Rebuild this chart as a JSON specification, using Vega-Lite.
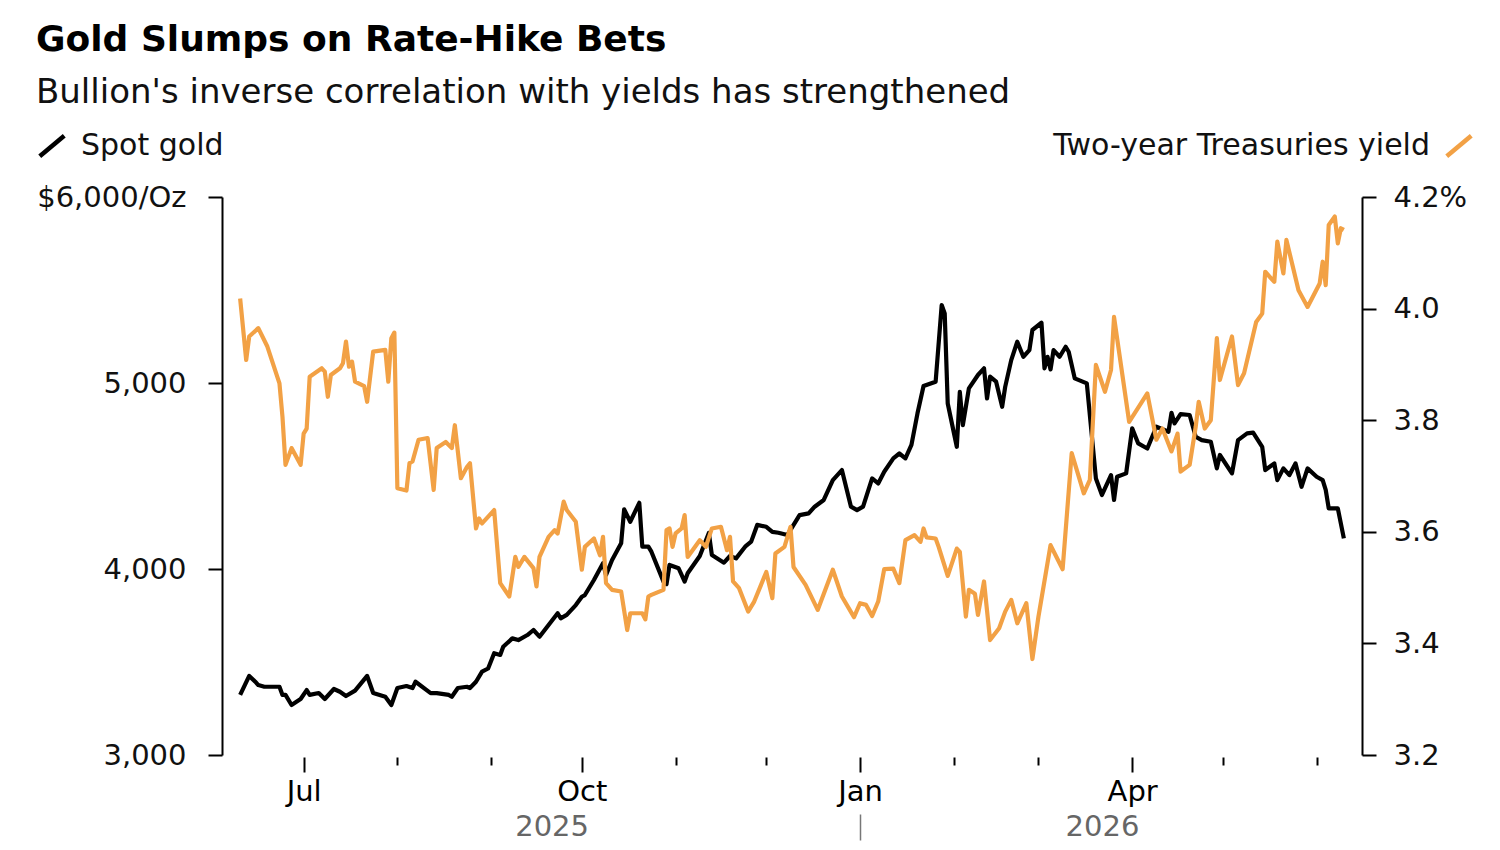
{
  "$schema": "https://vega.github.io/schema/vega-lite/v6.json",
  "width": 1140,
  "height": 558,
  "autosize": {"type": "none"},
  "padding": {"left": 222, "top": 197, "right": 138, "bottom": 95},
  "background": "white",
  "title": {
    "text": "Gold Slumps on Rate-Hike Bets",
    "subtitle": "Bullion's inverse correlation with yields has strengthened",
    "orient": "top",
    "anchor": "start",
    "frame": "group",
    "dx": -186,
    "font": "DejaVu Sans",
    "fontSize": 36,
    "fontWeight": "bold",
    "color": "#000000",
    "subtitleFont": "DejaVu Sans",
    "subtitleFontSize": 34,
    "subtitleFontWeight": "normal",
    "subtitleColor": "#111111",
    "subtitlePadding": 17,
    "offset": 20
  },
  "datasets": {
    "gold": [
      {"date": "2025-06-10", "value": 3323}, {"date": "2025-06-13", "value": 3425}, {"date": "2025-06-15", "value": 3394},
      {"date": "2025-06-16", "value": 3376}, {"date": "2025-06-18", "value": 3367}, {"date": "2025-06-23", "value": 3367},
      {"date": "2025-06-24", "value": 3323}, {"date": "2025-06-25", "value": 3323}, {"date": "2025-06-27", "value": 3269},
      {"date": "2025-06-30", "value": 3301}, {"date": "2025-07-02", "value": 3349}, {"date": "2025-07-03", "value": 3323},
      {"date": "2025-07-06", "value": 3333}, {"date": "2025-07-08", "value": 3301}, {"date": "2025-07-11", "value": 3355},
      {"date": "2025-07-13", "value": 3340}, {"date": "2025-07-15", "value": 3317}, {"date": "2025-07-18", "value": 3346},
      {"date": "2025-07-22", "value": 3425}, {"date": "2025-07-24", "value": 3333}, {"date": "2025-07-28", "value": 3313},
      {"date": "2025-07-30", "value": 3269}, {"date": "2025-08-01", "value": 3360}, {"date": "2025-08-04", "value": 3371},
      {"date": "2025-08-06", "value": 3360}, {"date": "2025-08-07", "value": 3394}, {"date": "2025-08-12", "value": 3333},
      {"date": "2025-08-14", "value": 3333}, {"date": "2025-08-18", "value": 3323}, {"date": "2025-08-19", "value": 3313},
      {"date": "2025-08-21", "value": 3360}, {"date": "2025-08-24", "value": 3367}, {"date": "2025-08-25", "value": 3360},
      {"date": "2025-08-27", "value": 3394}, {"date": "2025-08-29", "value": 3448}, {"date": "2025-08-31", "value": 3465},
      {"date": "2025-09-02", "value": 3547}, {"date": "2025-09-04", "value": 3538}, {"date": "2025-09-05", "value": 3582},
      {"date": "2025-09-08", "value": 3627}, {"date": "2025-09-10", "value": 3618}, {"date": "2025-09-13", "value": 3645},
      {"date": "2025-09-15", "value": 3672}, {"date": "2025-09-17", "value": 3636}, {"date": "2025-09-20", "value": 3699},
      {"date": "2025-09-23", "value": 3762}, {"date": "2025-09-24", "value": 3735}, {"date": "2025-09-26", "value": 3753},
      {"date": "2025-09-29", "value": 3806}, {"date": "2025-10-01", "value": 3851}, {"date": "2025-10-02", "value": 3860},
      {"date": "2025-10-05", "value": 3941}, {"date": "2025-10-08", "value": 4031}, {"date": "2025-10-09", "value": 3968},
      {"date": "2025-10-11", "value": 4048}, {"date": "2025-10-14", "value": 4138}, {"date": "2025-10-15", "value": 4321},
      {"date": "2025-10-17", "value": 4254}, {"date": "2025-10-20", "value": 4356}, {"date": "2025-10-21", "value": 4120},
      {"date": "2025-10-23", "value": 4120}, {"date": "2025-10-24", "value": 4093}, {"date": "2025-10-28", "value": 3932},
      {"date": "2025-10-29", "value": 3919}, {"date": "2025-10-30", "value": 4022}, {"date": "2025-11-02", "value": 4004},
      {"date": "2025-11-04", "value": 3932}, {"date": "2025-11-05", "value": 3977}, {"date": "2025-11-09", "value": 4070},
      {"date": "2025-11-12", "value": 4194}, {"date": "2025-11-13", "value": 4075}, {"date": "2025-11-17", "value": 4034},
      {"date": "2025-11-19", "value": 4070}, {"date": "2025-11-21", "value": 4057}, {"date": "2025-11-24", "value": 4120},
      {"date": "2025-11-26", "value": 4147}, {"date": "2025-11-28", "value": 4237}, {"date": "2025-12-01", "value": 4227},
      {"date": "2025-12-03", "value": 4200}, {"date": "2025-12-05", "value": 4195}, {"date": "2025-12-08", "value": 4183},
      {"date": "2025-12-12", "value": 4290}, {"date": "2025-12-15", "value": 4299}, {"date": "2025-12-17", "value": 4335},
      {"date": "2025-12-20", "value": 4371}, {"date": "2025-12-23", "value": 4478}, {"date": "2025-12-26", "value": 4532},
      {"date": "2025-12-29", "value": 4335}, {"date": "2025-12-31", "value": 4317}, {"date": "2026-01-02", "value": 4335},
      {"date": "2026-01-05", "value": 4487}, {"date": "2026-01-07", "value": 4460}, {"date": "2026-01-09", "value": 4523},
      {"date": "2026-01-12", "value": 4595}, {"date": "2026-01-14", "value": 4621}, {"date": "2026-01-16", "value": 4595},
      {"date": "2026-01-18", "value": 4667}, {"date": "2026-01-20", "value": 4837}, {"date": "2026-01-22", "value": 4984},
      {"date": "2026-01-26", "value": 5007}, {"date": "2026-01-28", "value": 5419}, {"date": "2026-01-29", "value": 5374},
      {"date": "2026-01-30", "value": 4890}, {"date": "2026-02-02", "value": 4657}, {"date": "2026-02-03", "value": 4952},
      {"date": "2026-02-04", "value": 4774}, {"date": "2026-02-06", "value": 4971}, {"date": "2026-02-09", "value": 5043},
      {"date": "2026-02-11", "value": 5079}, {"date": "2026-02-12", "value": 4917}, {"date": "2026-02-13", "value": 5034},
      {"date": "2026-02-15", "value": 5007}, {"date": "2026-02-17", "value": 4872}, {"date": "2026-02-18", "value": 4979},
      {"date": "2026-02-20", "value": 5123}, {"date": "2026-02-22", "value": 5222}, {"date": "2026-02-24", "value": 5141},
      {"date": "2026-02-26", "value": 5177}, {"date": "2026-02-27", "value": 5285}, {"date": "2026-03-02", "value": 5324},
      {"date": "2026-03-03", "value": 5079}, {"date": "2026-03-04", "value": 5141}, {"date": "2026-03-05", "value": 5073},
      {"date": "2026-03-06", "value": 5177}, {"date": "2026-03-08", "value": 5141}, {"date": "2026-03-10", "value": 5195},
      {"date": "2026-03-11", "value": 5168}, {"date": "2026-03-13", "value": 5025}, {"date": "2026-03-17", "value": 4998},
      {"date": "2026-03-19", "value": 4657}, {"date": "2026-03-20", "value": 4487}, {"date": "2026-03-22", "value": 4398},
      {"date": "2026-03-25", "value": 4505}, {"date": "2026-03-26", "value": 4371}, {"date": "2026-03-27", "value": 4496},
      {"date": "2026-03-30", "value": 4514}, {"date": "2026-04-01", "value": 4756}, {"date": "2026-04-03", "value": 4675},
      {"date": "2026-04-06", "value": 4648}, {"date": "2026-04-09", "value": 4765}, {"date": "2026-04-13", "value": 4738},
      {"date": "2026-04-14", "value": 4840}, {"date": "2026-04-15", "value": 4783}, {"date": "2026-04-17", "value": 4833},
      {"date": "2026-04-20", "value": 4828}, {"date": "2026-04-22", "value": 4711}, {"date": "2026-04-24", "value": 4693},
      {"date": "2026-04-27", "value": 4684}, {"date": "2026-04-29", "value": 4541}, {"date": "2026-04-30", "value": 4613},
      {"date": "2026-05-04", "value": 4514}, {"date": "2026-05-06", "value": 4693}, {"date": "2026-05-09", "value": 4729},
      {"date": "2026-05-11", "value": 4733}, {"date": "2026-05-14", "value": 4657}, {"date": "2026-05-15", "value": 4532},
      {"date": "2026-05-18", "value": 4568}, {"date": "2026-05-19", "value": 4478}, {"date": "2026-05-21", "value": 4541},
      {"date": "2026-05-23", "value": 4505}, {"date": "2026-05-25", "value": 4568}, {"date": "2026-05-27", "value": 4442},
      {"date": "2026-05-29", "value": 4541}, {"date": "2026-06-01", "value": 4496}, {"date": "2026-06-03", "value": 4478},
      {"date": "2026-06-04", "value": 4425}, {"date": "2026-06-05", "value": 4326}, {"date": "2026-06-08", "value": 4326},
      {"date": "2026-06-10", "value": 4165}
    ],
    "yield": [
      {"date": "2025-06-10", "value": 4.018}, {"date": "2025-06-12", "value": 3.908}, {"date": "2025-06-13", "value": 3.950},
      {"date": "2025-06-16", "value": 3.965}, {"date": "2025-06-19", "value": 3.932}, {"date": "2025-06-23", "value": 3.866},
      {"date": "2025-06-24", "value": 3.806}, {"date": "2025-06-25", "value": 3.720}, {"date": "2025-06-27", "value": 3.750},
      {"date": "2025-06-30", "value": 3.720}, {"date": "2025-07-01", "value": 3.776}, {"date": "2025-07-02", "value": 3.785},
      {"date": "2025-07-03", "value": 3.878}, {"date": "2025-07-07", "value": 3.893}, {"date": "2025-07-08", "value": 3.887},
      {"date": "2025-07-09", "value": 3.842}, {"date": "2025-07-10", "value": 3.881}, {"date": "2025-07-13", "value": 3.893},
      {"date": "2025-07-14", "value": 3.902}, {"date": "2025-07-15", "value": 3.941}, {"date": "2025-07-16", "value": 3.896},
      {"date": "2025-07-17", "value": 3.905}, {"date": "2025-07-18", "value": 3.869}, {"date": "2025-07-21", "value": 3.861},
      {"date": "2025-07-22", "value": 3.833}, {"date": "2025-07-24", "value": 3.923}, {"date": "2025-07-28", "value": 3.926},
      {"date": "2025-07-29", "value": 3.869}, {"date": "2025-07-30", "value": 3.947}, {"date": "2025-07-31", "value": 3.957},
      {"date": "2025-08-01", "value": 3.678}, {"date": "2025-08-04", "value": 3.674}, {"date": "2025-08-05", "value": 3.723},
      {"date": "2025-08-06", "value": 3.726}, {"date": "2025-08-08", "value": 3.765}, {"date": "2025-08-11", "value": 3.768},
      {"date": "2025-08-13", "value": 3.675}, {"date": "2025-08-14", "value": 3.750}, {"date": "2025-08-17", "value": 3.761},
      {"date": "2025-08-19", "value": 3.750}, {"date": "2025-08-20", "value": 3.791}, {"date": "2025-08-22", "value": 3.696},
      {"date": "2025-08-24", "value": 3.716}, {"date": "2025-08-25", "value": 3.723}, {"date": "2025-08-27", "value": 3.606},
      {"date": "2025-08-28", "value": 3.624}, {"date": "2025-08-29", "value": 3.615}, {"date": "2025-09-02", "value": 3.639},
      {"date": "2025-09-04", "value": 3.508}, {"date": "2025-09-07", "value": 3.484}, {"date": "2025-09-09", "value": 3.555},
      {"date": "2025-09-10", "value": 3.537}, {"date": "2025-09-12", "value": 3.555}, {"date": "2025-09-15", "value": 3.535},
      {"date": "2025-09-16", "value": 3.502}, {"date": "2025-09-17", "value": 3.555}, {"date": "2025-09-20", "value": 3.591},
      {"date": "2025-09-22", "value": 3.603}, {"date": "2025-09-23", "value": 3.597}, {"date": "2025-09-25", "value": 3.654},
      {"date": "2025-09-26", "value": 3.639}, {"date": "2025-09-29", "value": 3.618}, {"date": "2025-10-01", "value": 3.532},
      {"date": "2025-10-02", "value": 3.573}, {"date": "2025-10-05", "value": 3.588}, {"date": "2025-10-07", "value": 3.558},
      {"date": "2025-10-08", "value": 3.591}, {"date": "2025-10-09", "value": 3.508}, {"date": "2025-10-11", "value": 3.496},
      {"date": "2025-10-14", "value": 3.493}, {"date": "2025-10-16", "value": 3.424}, {"date": "2025-10-17", "value": 3.454},
      {"date": "2025-10-21", "value": 3.454}, {"date": "2025-10-22", "value": 3.443}, {"date": "2025-10-23", "value": 3.484},
      {"date": "2025-10-24", "value": 3.487}, {"date": "2025-10-28", "value": 3.496}, {"date": "2025-10-29", "value": 3.603},
      {"date": "2025-10-30", "value": 3.606}, {"date": "2025-10-31", "value": 3.573}, {"date": "2025-11-01", "value": 3.597},
      {"date": "2025-11-03", "value": 3.606}, {"date": "2025-11-04", "value": 3.630}, {"date": "2025-11-05", "value": 3.555},
      {"date": "2025-11-09", "value": 3.585}, {"date": "2025-11-11", "value": 3.573}, {"date": "2025-11-13", "value": 3.606},
      {"date": "2025-11-16", "value": 3.609}, {"date": "2025-11-18", "value": 3.567}, {"date": "2025-11-19", "value": 3.591},
      {"date": "2025-11-20", "value": 3.511}, {"date": "2025-11-22", "value": 3.499}, {"date": "2025-11-25", "value": 3.457},
      {"date": "2025-11-27", "value": 3.475}, {"date": "2025-12-01", "value": 3.528}, {"date": "2025-12-03", "value": 3.481},
      {"date": "2025-12-04", "value": 3.561}, {"date": "2025-12-07", "value": 3.573}, {"date": "2025-12-09", "value": 3.609},
      {"date": "2025-12-10", "value": 3.537}, {"date": "2025-12-14", "value": 3.505}, {"date": "2025-12-18", "value": 3.460},
      {"date": "2025-12-23", "value": 3.532}, {"date": "2025-12-26", "value": 3.484}, {"date": "2025-12-30", "value": 3.447},
      {"date": "2026-01-01", "value": 3.472}, {"date": "2026-01-03", "value": 3.469}, {"date": "2026-01-05", "value": 3.449},
      {"date": "2026-01-07", "value": 3.475}, {"date": "2026-01-09", "value": 3.533}, {"date": "2026-01-12", "value": 3.534},
      {"date": "2026-01-14", "value": 3.508}, {"date": "2026-01-16", "value": 3.585}, {"date": "2026-01-19", "value": 3.594},
      {"date": "2026-01-21", "value": 3.582}, {"date": "2026-01-22", "value": 3.606}, {"date": "2026-01-23", "value": 3.590},
      {"date": "2026-01-26", "value": 3.588}, {"date": "2026-01-27", "value": 3.573}, {"date": "2026-01-30", "value": 3.521},
      {"date": "2026-02-02", "value": 3.570}, {"date": "2026-02-03", "value": 3.564}, {"date": "2026-02-05", "value": 3.448},
      {"date": "2026-02-06", "value": 3.496}, {"date": "2026-02-08", "value": 3.489}, {"date": "2026-02-09", "value": 3.451},
      {"date": "2026-02-11", "value": 3.511}, {"date": "2026-02-13", "value": 3.406}, {"date": "2026-02-16", "value": 3.427},
      {"date": "2026-02-18", "value": 3.457}, {"date": "2026-02-20", "value": 3.478}, {"date": "2026-02-22", "value": 3.436},
      {"date": "2026-02-25", "value": 3.472}, {"date": "2026-02-27", "value": 3.372}, {"date": "2026-03-01", "value": 3.448},
      {"date": "2026-03-05", "value": 3.576}, {"date": "2026-03-09", "value": 3.533}, {"date": "2026-03-12", "value": 3.741},
      {"date": "2026-03-16", "value": 3.669}, {"date": "2026-03-18", "value": 3.693}, {"date": "2026-03-20", "value": 3.899},
      {"date": "2026-03-23", "value": 3.851}, {"date": "2026-03-25", "value": 3.890}, {"date": "2026-03-26", "value": 3.985},
      {"date": "2026-03-31", "value": 3.797}, {"date": "2026-04-06", "value": 3.848}, {"date": "2026-04-09", "value": 3.765},
      {"date": "2026-04-11", "value": 3.785}, {"date": "2026-04-14", "value": 3.744}, {"date": "2026-04-16", "value": 3.776},
      {"date": "2026-04-17", "value": 3.708}, {"date": "2026-04-20", "value": 3.720}, {"date": "2026-04-22", "value": 3.788},
      {"date": "2026-04-23", "value": 3.833}, {"date": "2026-04-25", "value": 3.785}, {"date": "2026-04-27", "value": 3.800},
      {"date": "2026-04-29", "value": 3.947}, {"date": "2026-04-30", "value": 3.872}, {"date": "2026-05-04", "value": 3.950},
      {"date": "2026-05-06", "value": 3.863}, {"date": "2026-05-08", "value": 3.884}, {"date": "2026-05-12", "value": 3.976},
      {"date": "2026-05-14", "value": 3.991}, {"date": "2026-05-15", "value": 4.066}, {"date": "2026-05-18", "value": 4.048},
      {"date": "2026-05-19", "value": 4.120}, {"date": "2026-05-21", "value": 4.063}, {"date": "2026-05-22", "value": 4.123},
      {"date": "2026-05-26", "value": 4.033}, {"date": "2026-05-29", "value": 4.003}, {"date": "2026-06-02", "value": 4.045},
      {"date": "2026-06-03", "value": 4.084}, {"date": "2026-06-04", "value": 4.042}, {"date": "2026-06-05", "value": 4.150},
      {"date": "2026-06-07", "value": 4.165}, {"date": "2026-06-08", "value": 4.117}, {"date": "2026-06-09", "value": 4.144},
      {"date": "2026-06-10", "value": 4.141}
    ]
  },
  "layer": [
    {
      "data": {"name": "gold"},
      "mark": {"type": "line", "strokeWidth": 4.2, "strokeJoin": "round", "strokeCap": "butt"},
      "encoding": {
        "x": {
          "field": "date",
          "type": "temporal",
          "scale": {
            "type": "utc",
            "domain": [
              {"year": 2025, "month": 6, "date": 4, "utc": true},
              {"year": 2026, "month": 6, "date": 16, "utc": true}
            ]
          },
          "axis": {
            "orient": "bottom",
            "title": null,
            "values": [
              {"year": 2025, "month": 7, "date": 1, "utc": true},
              {"year": 2025, "month": 8, "date": 1, "utc": true},
              {"year": 2025, "month": 9, "date": 1, "utc": true},
              {"year": 2025, "month": 10, "date": 1, "utc": true},
              {"year": 2025, "month": 11, "date": 1, "utc": true},
              {"year": 2025, "month": 12, "date": 1, "utc": true},
              {"year": 2026, "month": 1, "date": 1, "utc": true},
              {"year": 2026, "month": 2, "date": 1, "utc": true},
              {"year": 2026, "month": 3, "date": 1, "utc": true},
              {"year": 2026, "month": 4, "date": 1, "utc": true},
              {"year": 2026, "month": 5, "date": 1, "utc": true},
              {"year": 2026, "month": 6, "date": 1, "utc": true}
            ],
            "labelExpr": "utcmonth(datum.value) % 3 == 0 ? utcFormat(datum.value, '%b') : ''",
            "tickSize": {"condition": {"test": "utcmonth(datum.value) % 3 == 0", "value": 15}, "value": 8},
            "domain": false,
            "grid": false,
            "offset": 2,
            "tickWidth": 2,
            "tickColor": "#000000",
            "labelFont": "DejaVu Sans",
            "labelFontSize": 29,
            "labelColor": "#000000",
            "labelPadding": 5,
            "labelOverlap": false,
            "labelFlush": false
          }
        },
        "y": {
          "field": "value",
          "type": "quantitative",
          "scale": {"domain": [3000, 6000], "nice": false, "zero": false},
          "axis": {
            "orient": "left",
            "title": null,
            "values": [3000, 4000, 5000, 6000],
            "labelExpr": "datum.value == 6000 ? '$6,000/Oz' : format(datum.value, ',')",
            "grid": false,
            "domainColor": "#000000",
            "domainWidth": 2,
            "tickSize": 14,
            "tickWidth": 2,
            "tickColor": "#000000",
            "labelPadding": 22,
            "labelFont": "DejaVu Sans",
            "labelFontSize": 29,
            "labelColor": "#111111",
            "labelFlush": false
          }
        },
        "color": {
          "datum": "Spot gold",
          "scale": {"range": ["#000000"]},
          "legend": {
            "orient": "none",
            "legendX": -185,
            "legendY": -66,
            "title": null,
            "padding": 0,
            "symbolType": "M-1,0.84L1,-0.84",
            "symbolSize": 600,
            "symbolStrokeWidth": 4.5,
            "labelFont": "DejaVu Sans",
            "labelFontSize": 30,
            "labelColor": "#111111",
            "labelLimit": 600,
            "labelOffset": 14
          }
        }
      }
    },
    {
      "data": {"name": "yield"},
      "mark": {"type": "line", "strokeWidth": 4.2, "strokeJoin": "round", "strokeCap": "butt"},
      "encoding": {
        "x": {
          "field": "date",
          "type": "temporal",
          "scale": {
            "type": "utc",
            "domain": [
              {"year": 2025, "month": 6, "date": 4, "utc": true},
              {"year": 2026, "month": 6, "date": 16, "utc": true}
            ]
          },
          "axis": {
            "orient": "bottom",
            "title": null,
            "values": [
              {"year": 2025, "month": 9, "date": 21, "utc": true},
              {"year": 2026, "month": 1, "date": 1, "utc": true},
              {"year": 2026, "month": 3, "date": 22, "utc": true}
            ],
            "labelExpr": "utcmonth(datum.value) == 0 ? '' : utcFormat(datum.value, '%Y')",
            "tickOpacity": {"condition": {"test": "utcmonth(datum.value) == 0", "value": 1}, "value": 0},
            "tickSize": 26,
            "tickWidth": 1.5,
            "tickColor": "#777777",
            "offset": 59,
            "domain": false,
            "grid": false,
            "labelBaseline": "middle",
            "labelPadding": -14,
            "labelFont": "DejaVu Sans",
            "labelFontSize": 29,
            "labelColor": "#666666",
            "labelOverlap": false,
            "labelFlush": false
          }
        },
        "y": {
          "field": "value",
          "type": "quantitative",
          "scale": {"domain": [3.2, 4.2], "nice": false, "zero": false},
          "axis": {
            "orient": "right",
            "title": null,
            "values": [3.2, 3.4, 3.6, 3.8, 4.0, 4.2],
            "labelExpr": "datum.value > 4.15 ? '4.2%' : format(datum.value, '.1f')",
            "grid": false,
            "domainColor": "#000000",
            "domainWidth": 2,
            "tickSize": 14,
            "tickWidth": 2,
            "tickColor": "#000000",
            "labelPadding": 17,
            "labelFont": "DejaVu Sans",
            "labelFontSize": 29,
            "labelColor": "#111111",
            "labelFlush": false
          }
        },
        "color": {
          "datum": "Two-year Treasuries yield",
          "scale": {"range": ["#f2a145"]},
          "legend": {
            "orient": "none",
            "legendX": 1222,
            "legendY": -66,
            "title": null,
            "padding": 0,
            "symbolType": "M-1,0.84L1,-0.84",
            "symbolSize": 600,
            "symbolStrokeWidth": 4.5,
            "labelFont": "DejaVu Sans",
            "labelFontSize": 30,
            "labelColor": "#111111",
            "labelLimit": 600,
            "labelAlign": "right",
            "labelOffset": -44
          }
        }
      }
    }
  ],
  "resolve": {
    "scale": {"y": "independent", "color": "independent"},
    "axis": {"x": "independent", "y": "independent"},
    "legend": {"color": "independent"}
  },
  "config": {
    "view": {"stroke": null},
    "font": "DejaVu Sans"
  }
}
